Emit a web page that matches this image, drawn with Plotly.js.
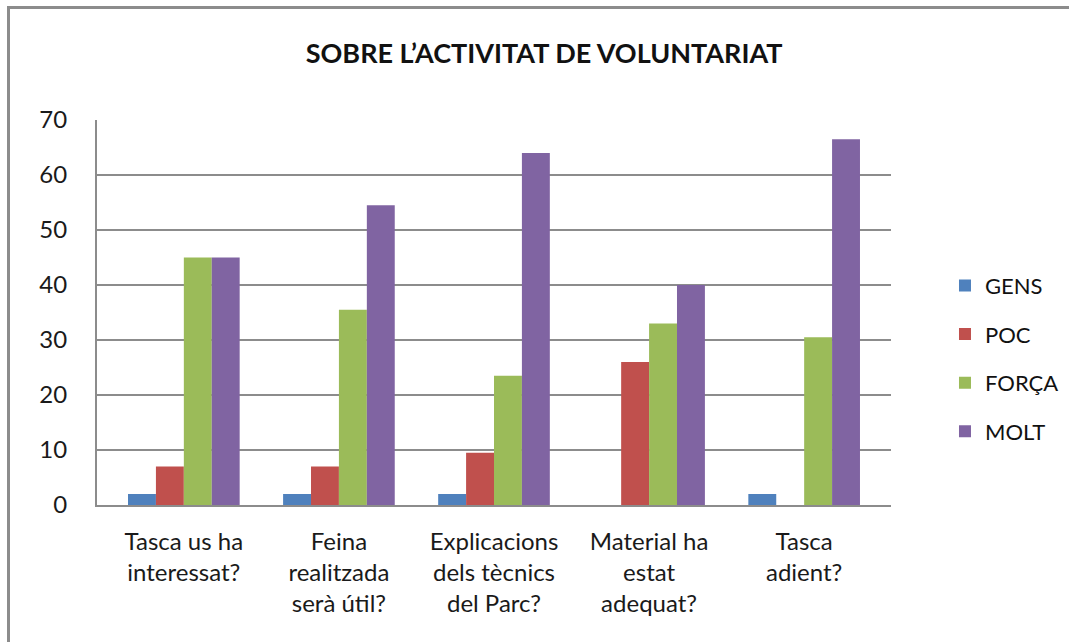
<!DOCTYPE html>
<html>
<head>
<meta charset="utf-8">
<script src="https://cdn.plot.ly/plotly-3.0.1.min.js"></script>
<style>
  html, body { margin: 0; padding: 0; background: #fff; overflow: hidden; }
  #wrap { position: relative; width: 1069px; height: 642px; overflow: hidden; }
  #chart { width: 1069px; height: 642px; }
  #frame { position: absolute; left: 7px; top: 6px; width: 2000px; height: 2000px;
           border: 3px solid #8c8c8c; pointer-events: none; box-sizing: border-box; }
</style>
</head>
<body>
<div id="wrap">
  <div id="chart"></div>
  <div id="frame"></div>
</div>
<script>
const categories = [
  "Tasca us ha<br>interessat?",
  "Feina<br>realitzada<br>serà útil?",
  "Explicacions<br>dels tècnics<br>del Parc?",
  "Material ha<br>estat<br>adequat?",
  "Tasca<br>adient?"
];
const gens  = [2, 2, 2, 0, 2];
const poc   = [7, 7, 9.5, 26, 0];
const forca = [45, 35.5, 23.5, 33, 30.5];
const molt  = [45, 54.5, 64, 40, 66.5];
const seriesNames = ["GENS", "POC", "FORÇA", "MOLT"];
const yTicks = [0, 10, 20, 30, 40, 50, 60, 70];

const colors = ["#4F81BD", "#C0504D", "#9BBB59", "#8064A2"];
const values = [gens, poc, forca, molt];

const traces = values.map((v, i) => ({
  type: "bar",
  name: seriesNames[i],
  x: categories,
  y: v,
  legendgroup: "g" + i,
  marker: { color: colors[i], line: { width: 0 } },
  hoverinfo: "skip"
}));

const layout = {
  width: 1069,
  height: 642,
  paper_bgcolor: "#ffffff",
  plot_bgcolor: "#ffffff",
  margin: { l: 97, r: 178, t: 120, b: 137, autoexpand: false },
  title: {
    text: "SOBRE L’ACTIVITAT DE VOLUNTARIAT",
    font: { family: "Lato, 'Open Sans', sans-serif", size: 27, color: "#111", weight: "bold" },
    x: 0.509, xref: "container", xanchor: "center",
    y: 0.917, yref: "container", yanchor: "middle"
  },
  barmode: "group",
  bargap: 0.28,
  bargroupgap: 0,
  showlegend: true,
  legend: {
    x: 1.068, xanchor: "left",
    y: 0.38, yanchor: "middle",
    font: { family: "Lato, 'Open Sans', sans-serif", size: 22, color: "#111" },
    tracegroupgap: 17,
    itemwidth: 30,
    bgcolor: "rgba(0,0,0,0)"
  },
  xaxis: {
    type: "category",
    range: [-0.56, 4.56],
    showline: true, linecolor: "#8c8c8c", linewidth: 2,
    showgrid: false, ticks: "",
    tickfont: { family: "Lato, 'Open Sans', sans-serif", size: 24, color: "#1a1a1a" },
    ticklabelstandoff: 14,
    fixedrange: true
  },
  yaxis: {
    range: [0, 70],
    tickvals: yTicks,
    ticktext: yTicks.map(String),
    showline: true, linecolor: "#8c8c8c", linewidth: 2,
    showgrid: true, gridcolor: "#8c8c8c", gridwidth: 2,
    zeroline: false,
    ticks: "",
    tickfont: { family: "Lato, 'Open Sans', sans-serif", size: 24, color: "#1a1a1a" },
    ticklabelstandoff: 23,
    fixedrange: true
  }
};

Plotly.newPlot("chart", traces, layout, { displayModeBar: false, staticPlot: true });
</script>
</body>
</html>
